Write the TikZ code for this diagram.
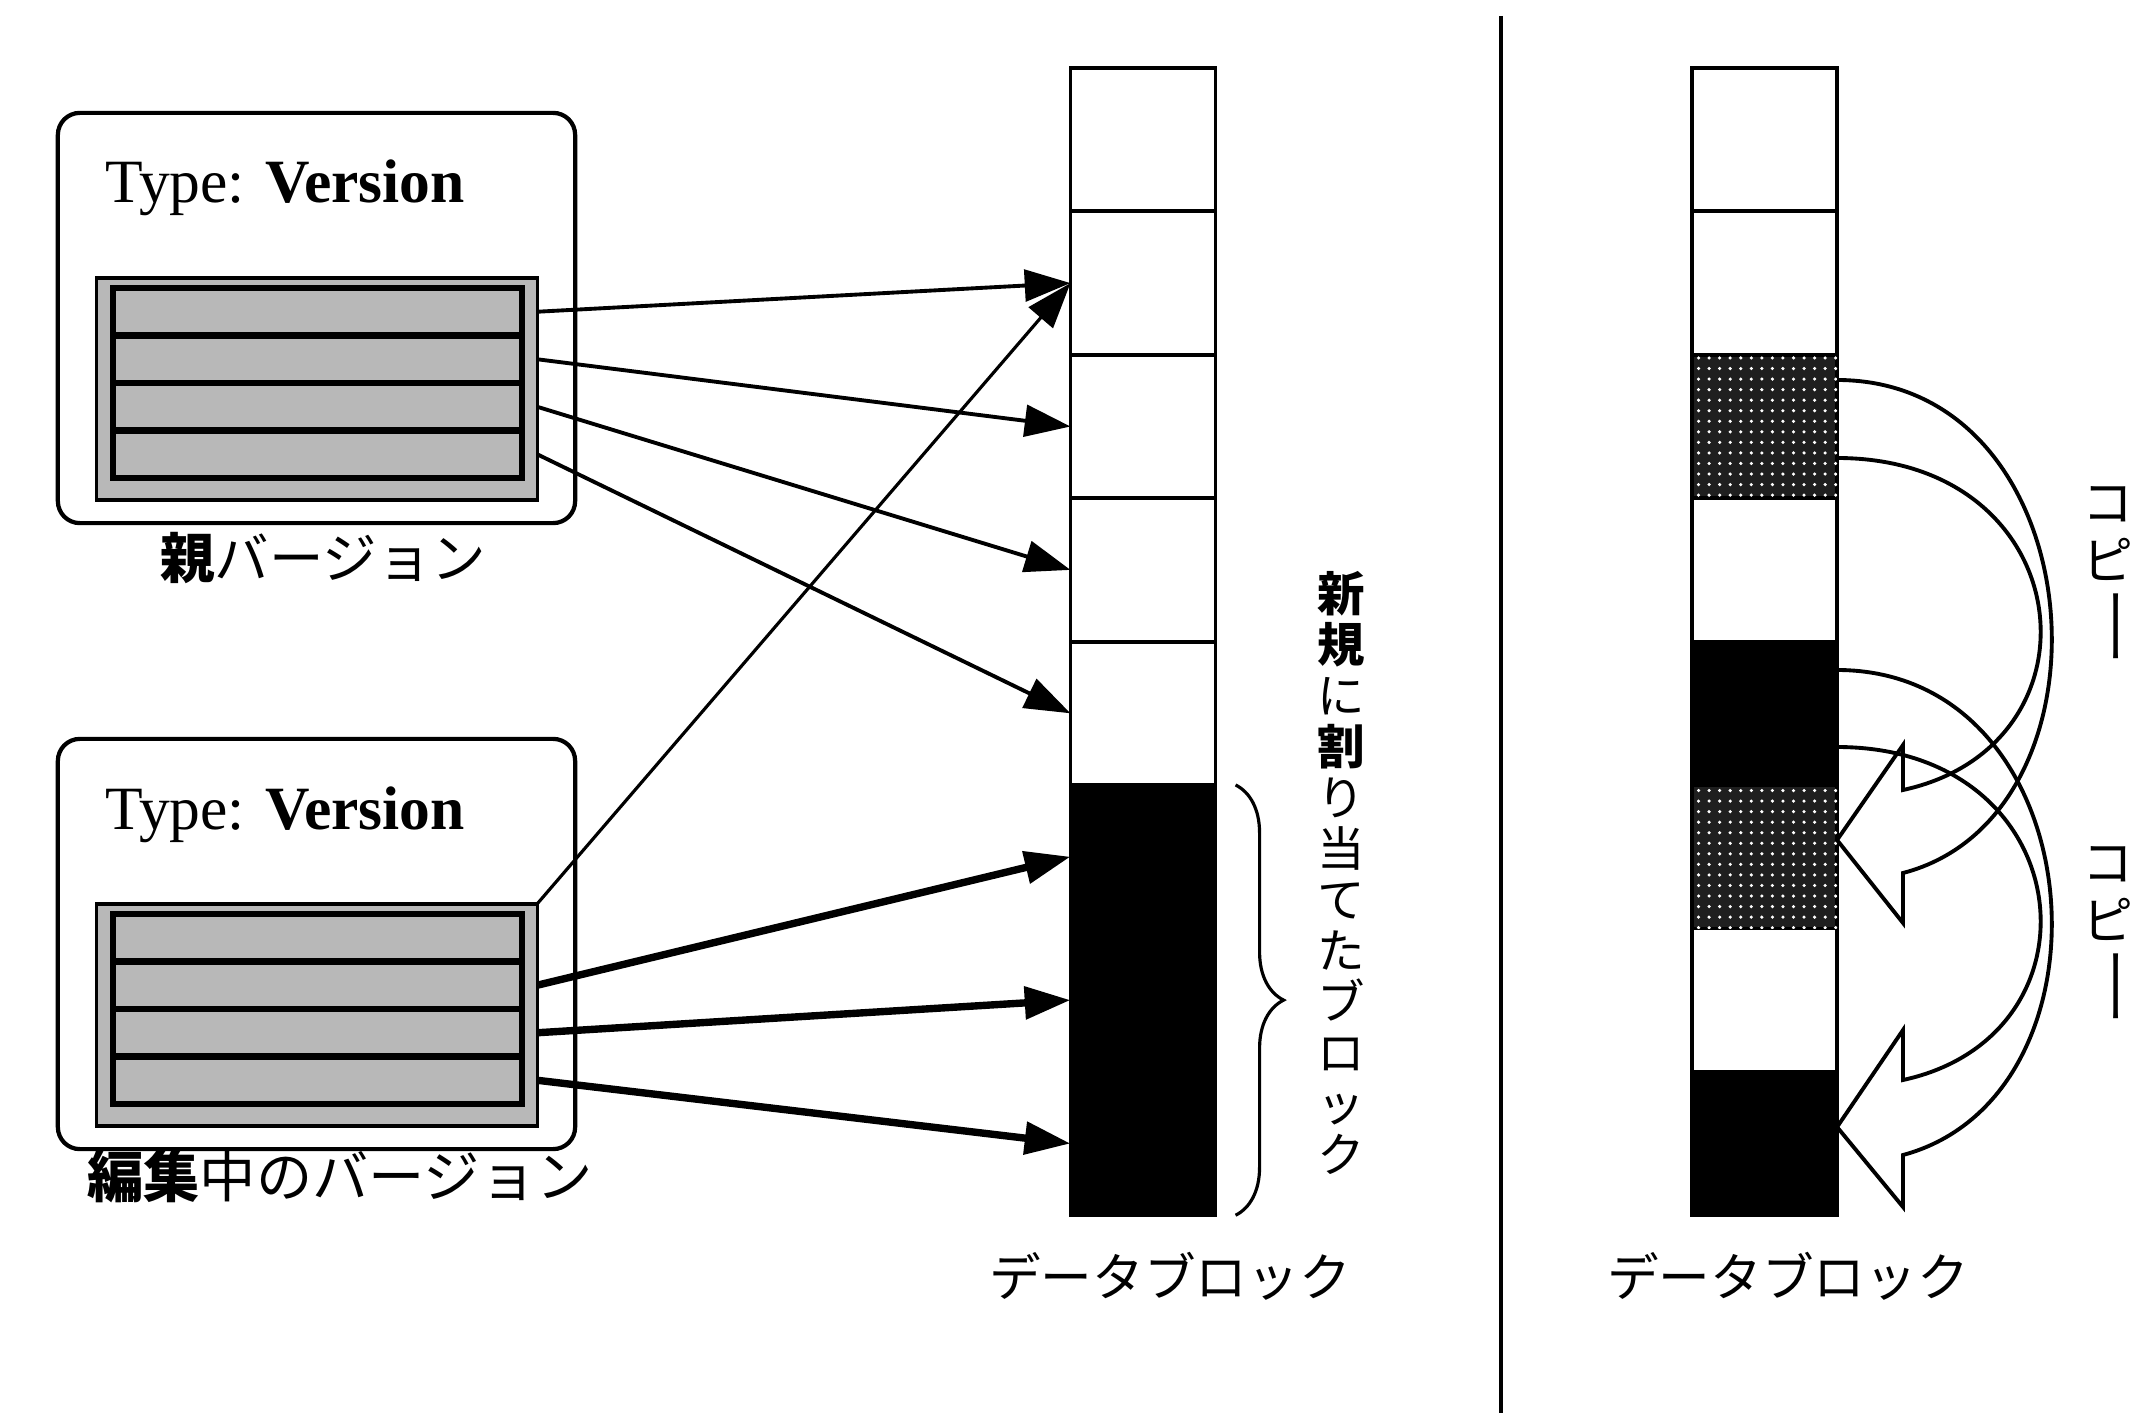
\documentclass[tikz,border=0pt]{standalone}
\usepackage{fontspec}
\setmainfont{Liberation Serif}
\newfontfamily\jp{Noto Sans CJK JP}
\usetikzlibrary{arrows.meta,decorations.pathreplacing,patterns}
\newcommand{\vchoon}{\rotatebox[origin=c]{-90}{\scalebox{1.6}[1]{ー}}}
\tikzset{
  cell/.style={draw, line width=1.1pt, minimum width=1.45cm, minimum height=1.434cm, inner sep=0pt, outer sep=0pt},
  blk/.style={fill=black},
  stipcell/.style={fill=black!88, postaction={pattern=dots, pattern color=white}},
  vbox/.style={draw, line width=1.2pt, rounded corners=0.22cm, minimum width=5.17cm, minimum height=4.1cm, inner sep=0pt, outer sep=0pt},
  stipbox/.style={draw, line width=0.9pt, fill=black!28, minimum width=4.4cm, minimum height=2.22cm, inner sep=0pt, outer sep=0pt},
  innerbox/.style={draw, line width=1.9pt, fill=black!28, minimum width=4.09cm, minimum height=1.9cm, inner sep=0pt, outer sep=0pt},
  rowline/.style={line width=1.9pt},
  rowport/.style={minimum width=4.24cm, minimum height=0.475cm, inner sep=0pt, outer sep=0pt},
  conn/.style={line width=1.1pt, -{Triangle[length=13pt,width=9pt]}},
  thinconn/.style={conn, line width=0.9pt},
  thickconn/.style={line width=2.1pt, -{Triangle[length=13pt,width=9pt]}},
  copyarr/.style={line width=1.1pt, line join=miter},
  typetext/.style={font=\fontsize{17.5}{20}\selectfont, inner sep=0pt, anchor=base west},
  jplabel/.style={font=\jp\fontsize{15.5}{18}\selectfont, inner sep=0pt},
  dblabel/.style={font=\jp\fontsize{14.7}{17}\selectfont, inner sep=0pt},
  vlabel/.style={font=\jp\fontsize{13.5}{14.5}\selectfont, align=center, inner sep=0pt},
  cplabel/.style={font=\jp\fontsize{14.5}{16.5}\selectfont, align=center, inner sep=0pt},
  bracestyle/.style={line width=0.9pt, decorate, decoration={brace, amplitude=0.48cm}},
}
\begin{document}
\begin{tikzpicture}[x=0.01cm, y=-0.01cm]
\fill[white] (0,0) rectangle (2140,1413);
\useasboundingbox (0,0) rectangle (2140,1413);

% separator
\coordinate (septop) at (1501,16);
\coordinate (sepbot) at (1501,1413);
\draw[line width=1.1pt] (septop) -- (sepbot);

% version boxes
\foreach \b/\dy in {1/0, 2/626}{
  \node[vbox] (V\b) at (316.5, 318+\dy) {};
  \node[typetext] (T\b) at (105, 203+\dy) {Type: \textbf{Version}};
  \node[stipbox] (S\b) at (317, 389+\dy) {};
  \node[innerbox] (I\b) at (317.5, 383+\dy) {};
  \foreach \r in {335.5, 383, 430.5}{
    \draw[rowline] (I\b.west |- 0,\r+\dy) -- (I\b.east |- 0,\r+\dy);
  }
  \foreach \k in {1,2,3,4}{
    \node[rowport] (A\b\k) at (325, 311.75+47.5*\k-47.5+\dy) {};
  }
}
\node[jplabel] (lab1) at (323,558) {{\bfseries 親}バージョン};
\node[jplabel, font=\jp\fontsize{16}{18}\selectfont] (lab2) at (340,1176) {{\bfseries 編集}中のバージョン};

% left data column
\foreach \k in {1,...,8}{
  \node[cell] (L\k) at (1143, 68+143.4*\k-71.7) {};
}
\foreach \k in {6,7,8}{
  \node[cell, blk] at (L\k) {};
}
% right data column
\foreach \k in {1,...,8}{
  \node[cell] (R\k) at (1764.5, 68+143.4*\k-71.7) {};
}
\node[cell, stipcell] at (R3) {};
\node[cell, blk] at (R5) {};
\node[cell, stipcell] at (R6) {};
\node[cell, blk] at (R8) {};

% connectors from parent version
\draw[conn] (A11.east) -- (L2.west);
\draw[conn] (A12.east) -- (L3.west);
\draw[conn] (A13.east) -- (L4.west);
\draw[conn] (A14.east) -- (L5.west);
% connectors from edited version
\draw[thinconn] (S2.north east) -- (L2.west);
\draw[thickconn] (A22.east) -- (L6.west);
\draw[thickconn] (A23.east) -- (L7.west);
\draw[thickconn] (A24.east) -- (L8.west);

% brace and vertical label
\draw[bracestyle] ([xshift=0.2cm]L6.north east) -- ([xshift=0.2cm]L8.south east);
\node[vlabel] (nv) at (1341,873) {{\bfseries 新}\\{\bfseries 規}\\に\\{\bfseries 割}\\り\\当\\て\\た\\ブ\\ロ\\ッ\\ク};

% labels under columns
\node[dblabel] (dbl) at (1170,1276) {データブロック};
\node[dblabel] (dbr) at (1788,1276) {データブロック};

% copy arrows
\draw[copyarr] (R3.east |- 0,380) .. controls (2095,380) and (2125,815) .. (1903,873)
  -- (1903,923) -- (R6.east |- 0,840) -- (1903,745) -- (1903,790)
  .. controls (2110,745) and (2080,458) .. (R3.east |- 0,458);
\draw[copyarr] (R5.east |- 0,670) .. controls (2095,670) and (2125,1095) .. (1903,1155)
  -- (1903,1207) -- (R8.east |- 0,1127) -- (1903,1030) -- (1903,1080)
  .. controls (2110,1035) and (2080,747) .. (R5.east |- 0,747);
\node[cplabel] (cp1) at (2108,577) {コ\\ピ\\\vchoon};
\node[cplabel] (cp2) at (2108,937) {コ\\ピ\\\vchoon};
\end{tikzpicture}
\end{document}
